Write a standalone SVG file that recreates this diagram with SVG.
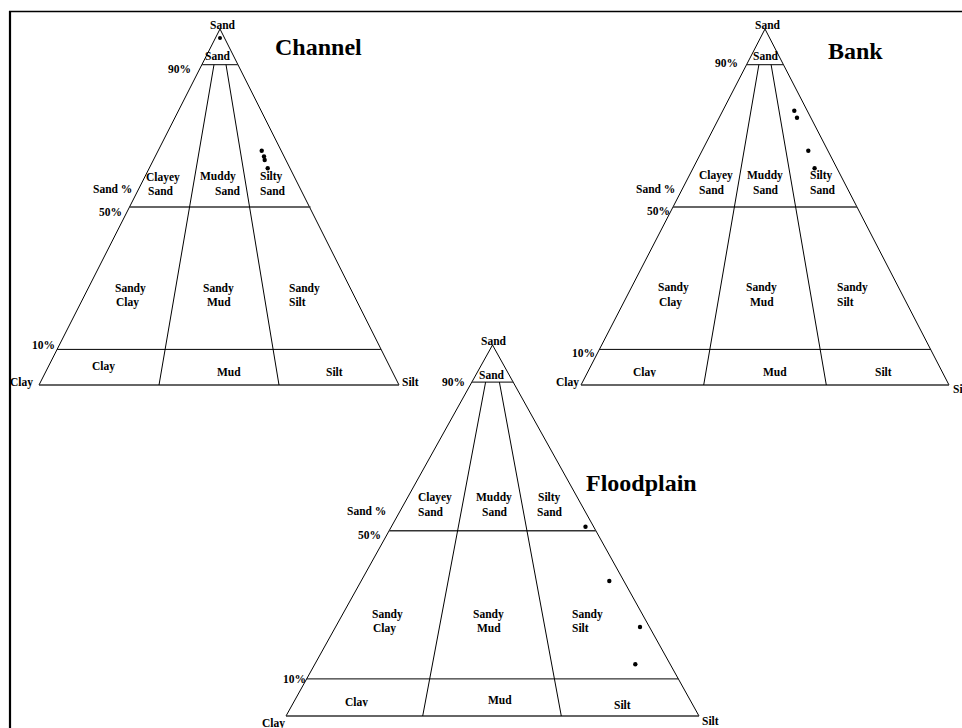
<svg xmlns="http://www.w3.org/2000/svg" width="962" height="728" viewBox="0 0 962 728">
  <style>
    text { font-family: "Liberation Serif", "Times New Roman", serif; font-weight: bold; fill: #000; }
    .lb { font-size: 11.5px; }
    .ttl { font-size: 24px; }
    .edge { fill: none; stroke: #000; stroke-width: 1; }
    .grid { stroke: #000; stroke-width: 1; }
    .gridg { stroke: #333; stroke-width: 1.4; }
    .pt { fill: #000; }
  </style>
  <defs>
    <!-- descenders of the inner "Clay" labels are cut at the baseline -->
    <clipPath id="cutBank" clipPathUnits="userSpaceOnUse"><rect x="600" y="340" width="100" height="37"/></clipPath>
    <clipPath id="cutFlood" clipPathUnits="userSpaceOnUse"><rect x="320" y="680" width="100" height="26.5"/></clipPath>
  </defs>
  <rect width="962" height="728" fill="#fff"/>

  <!-- frame -->
  <g id="frame">
    <line x1="10" y1="11" x2="10" y2="728" stroke="#000" stroke-width="2.2"/>
    <line x1="9" y1="11.5" x2="962" y2="11.5" stroke="#000" stroke-width="1.5"/>
  </g>

  <!-- Channel -->
  <g id="channel">
    <polyline class="edge" points="39,385 220,29 399,385"/>
    <line class="gridg" x1="39" y1="385" x2="399" y2="385"/>
    <line class="gridg" x1="202" y1="64.6" x2="238" y2="64.6"/>
    <line class="gridg" x1="129.5" y1="207" x2="310.5" y2="207"/>
    <line class="grid" x1="57.1" y1="349.4" x2="380.9" y2="349.4"/>
    <line class="grid" x1="214" y1="64.6" x2="159" y2="385"/>
    <line class="grid" x1="226" y1="64.6" x2="279" y2="385"/>
    <text class="lb" x="210" y="29">Sand</text>
    <text class="lb" x="205" y="60">Sand</text>
    <text class="lb" x="168" y="73">90%</text>
    <text class="ttl" x="275" y="55">Channel</text>
    <text class="lb" x="93" y="193">Sand %</text>
    <text class="lb" x="99" y="216">50%</text>
    <text class="lb" x="146" y="181">Clayey</text>
    <text class="lb" x="148" y="195">Sand</text>
    <text class="lb" x="200" y="180">Muddy</text>
    <text class="lb" x="215" y="195">Sand</text>
    <text class="lb" x="260" y="180">Silty</text>
    <text class="lb" x="260" y="195">Sand</text>
    <text class="lb" x="115" y="292">Sandy</text>
    <text class="lb" x="116" y="306">Clay</text>
    <text class="lb" x="203" y="292">Sandy</text>
    <text class="lb" x="207" y="306">Mud</text>
    <text class="lb" x="289" y="292">Sandy</text>
    <text class="lb" x="289" y="306">Silt</text>
    <text class="lb" x="32" y="349">10%</text>
    <text class="lb" x="92" y="370">Clay</text>
    <text class="lb" x="217" y="376">Mud</text>
    <text class="lb" x="326" y="376">Silt</text>
    <text class="lb" x="10" y="386">Clay</text>
    <text class="lb" x="402" y="386">Silt</text>
    <circle class="pt" cx="220" cy="38" r="2"/>
    <circle class="pt" cx="261.7" cy="150.7" r="2.2"/>
    <circle class="pt" cx="264" cy="156.5" r="2.2"/>
    <circle class="pt" cx="264.7" cy="160" r="2.2"/>
    <circle class="pt" cx="267.7" cy="168.3" r="2.2"/>
  </g>

  <!-- Bank -->
  <g id="bank">
    <polyline class="edge" points="581,385 765,29 949,385"/>
    <line class="gridg" x1="581" y1="385" x2="949" y2="385"/>
    <line class="gridg" x1="746.6" y1="64.6" x2="783.4" y2="64.6"/>
    <line class="gridg" x1="673" y1="207" x2="857" y2="207"/>
    <line class="grid" x1="599.4" y1="349.4" x2="930.6" y2="349.4"/>
    <line class="grid" x1="758.9" y1="64.6" x2="703.7" y2="385"/>
    <line class="grid" x1="771.1" y1="64.6" x2="826.3" y2="385"/>
    <text class="lb" x="755" y="29">Sand</text>
    <text class="lb" x="753" y="60">Sand</text>
    <text class="lb" x="715" y="67">90%</text>
    <text class="ttl" x="828" y="59">Bank</text>
    <text class="lb" x="636" y="193">Sand %</text>
    <text class="lb" x="647" y="215">50%</text>
    <text class="lb" x="699" y="179">Clayey</text>
    <text class="lb" x="699" y="194">Sand</text>
    <text class="lb" x="747" y="179">Muddy</text>
    <text class="lb" x="753" y="194">Sand</text>
    <text class="lb" x="810" y="179">Silty</text>
    <text class="lb" x="810" y="194">Sand</text>
    <text class="lb" x="658" y="291">Sandy</text>
    <text class="lb" x="659" y="306">Clay</text>
    <text class="lb" x="746" y="291">Sandy</text>
    <text class="lb" x="750" y="306">Mud</text>
    <text class="lb" x="837" y="291">Sandy</text>
    <text class="lb" x="837" y="306">Silt</text>
    <text class="lb" x="572" y="357">10%</text>
    <text class="lb" x="633" y="376" clip-path="url(#cutBank)">Clay</text>
    <text class="lb" x="763" y="376">Mud</text>
    <text class="lb" x="875" y="376">Silt</text>
    <text class="lb" x="556" y="386">Clay</text>
    <text class="lb" x="953" y="393">Silt</text>
    <circle class="pt" cx="794.3" cy="110.7" r="2.2"/>
    <circle class="pt" cx="797" cy="117.7" r="2.2"/>
    <circle class="pt" cx="808.3" cy="150.7" r="2.2"/>
    <circle class="pt" cx="814.6" cy="168.3" r="2.2"/>
  </g>

  <!-- Floodplain -->
  <g id="floodplain">
    <polyline class="edge" points="286,716 492.5,345 699,716"/>
    <line class="gridg" x1="286" y1="716" x2="699" y2="716"/>
    <line class="gridg" x1="471.85" y1="382.1" x2="513.15" y2="382.1"/>
    <line class="gridg" x1="389.25" y1="530.8" x2="595.75" y2="530.8"/>
    <line class="grid" x1="306.65" y1="678.9" x2="678.35" y2="678.9"/>
    <line class="grid" x1="485.6" y1="382.1" x2="422.7" y2="716"/>
    <line class="grid" x1="499.4" y1="382.1" x2="561.3" y2="716"/>
    <text class="lb" x="481" y="345">Sand</text>
    <text class="lb" x="479" y="379">Sand</text>
    <text class="lb" x="442" y="386">90%</text>
    <text class="ttl" x="586" y="491">Floodplain</text>
    <text class="lb" x="347" y="515">Sand %</text>
    <text class="lb" x="358" y="539">50%</text>
    <text class="lb" x="418" y="501">Clayey</text>
    <text class="lb" x="418" y="516">Sand</text>
    <text class="lb" x="476" y="501">Muddy</text>
    <text class="lb" x="482" y="516">Sand</text>
    <text class="lb" x="538" y="501">Silty</text>
    <text class="lb" x="537" y="516">Sand</text>
    <text class="lb" x="372" y="618">Sandy</text>
    <text class="lb" x="373" y="632">Clay</text>
    <text class="lb" x="473" y="618">Sandy</text>
    <text class="lb" x="477" y="632">Mud</text>
    <text class="lb" x="572" y="618">Sandy</text>
    <text class="lb" x="572" y="632">Silt</text>
    <text class="lb" x="283" y="683">10%</text>
    <text class="lb" x="345" y="706" clip-path="url(#cutFlood)">Clay</text>
    <text class="lb" x="488" y="704">Mud</text>
    <text class="lb" x="614" y="709">Silt</text>
    <text class="lb" x="262" y="727">Clay</text>
    <text class="lb" x="702" y="725">Silt</text>
    <circle class="pt" cx="585.5" cy="526.7" r="2.2"/>
    <circle class="pt" cx="609.3" cy="581" r="2.2"/>
    <circle class="pt" cx="640" cy="627" r="2.2"/>
    <circle class="pt" cx="635.3" cy="664.3" r="2.2"/>
  </g>
</svg>
